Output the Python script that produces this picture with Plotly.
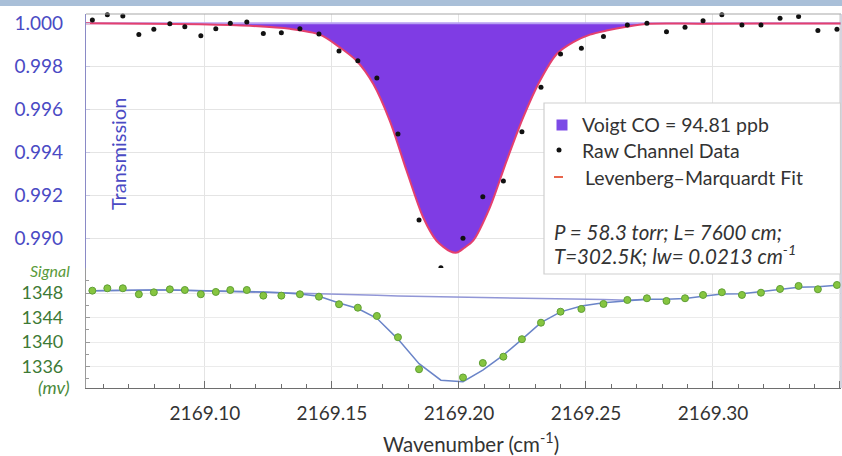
import plotly.graph_objects as go

# ---------------- data ----------------
wavenumber = [2169.0557, 2169.0616, 2169.0677, 2169.0740, 2169.0799, 2169.0862, 2169.0921,
              2169.0984, 2169.1043, 2169.1100, 2169.1165, 2169.1230, 2169.1301, 2169.1374,
              2169.1449, 2169.1528, 2169.1602, 2169.1677, 2169.1760, 2169.1843, 2169.1929,
              2169.2016, 2169.2094, 2169.2175, 2169.2248, 2169.2323, 2169.2400, 2169.2482,
              2169.2569, 2169.2663, 2169.2740, 2169.2817, 2169.2890, 2169.2961, 2169.3035,
              2169.3114, 2169.3189, 2169.3264, 2169.3337, 2169.3413, 2169.3488]

raw_transmission = [1.00015, 1.00039, 1.00034, 0.99948, 0.99972, 0.99998, 0.99984, 0.99942,
                    0.99974, 1.00000, 1.00006, 0.99952, 0.99956, 0.99974, 0.99950, 0.99871,
                    0.99826, 0.99746, 0.99486, 0.99086, 0.98864, 0.99001, 0.99194, 0.99267,
                    0.99496, 0.99703, 0.99857, 0.99884, 0.99938, 0.99992, 1.00000, 0.99960,
                    0.99981, 1.00012, 1.00039, 0.99992, 0.99992, 1.00023, 1.00031, 0.99966,
                    0.99972]

fit_wavenumber = [2169.0532, 2169.0783, 2169.0980, 2169.1177, 2169.1335, 2169.1453, 2169.1531,
                  2169.1597, 2169.1663, 2169.1728, 2169.1794, 2169.1859, 2169.1912, 2169.1965,
                  2169.1992, 2169.2020, 2169.2056, 2169.2122, 2169.2188, 2169.2253, 2169.2319,
                  2169.2385, 2169.2450, 2169.2516, 2169.2581, 2169.2660, 2169.2739, 2169.2949,
                  2169.3504]
fit_transmission = [1.00000, 0.99998, 0.99995, 0.99988, 0.99974, 0.99947, 0.99888,
                    0.99826, 0.99718, 0.99547, 0.99315, 0.99099, 0.98990, 0.98941,
                    0.98935, 0.98956, 0.98990, 0.99145, 0.99362, 0.99563, 0.99733,
                    0.99857, 0.99912, 0.99947, 0.99966, 0.99984, 0.99997, 0.99998,
                    0.99999]

baseline_wavenumber = [2169.0532, 2169.3504]
baseline_transmission = [1.0, 1.0]

signal_mv = [1348.41, 1348.80, 1348.80, 1347.82, 1348.14, 1348.63, 1348.52, 1347.82, 1348.20,
             1348.52, 1348.52, 1347.60, 1347.60, 1347.82, 1347.43, 1346.19, 1345.63, 1344.28,
             1340.80, 1335.58, 1332.40, 1334.24, 1336.60, 1337.63, 1340.49, 1343.18, 1344.98,
             1345.42, 1346.24, 1346.89, 1347.17, 1346.73, 1347.17, 1347.71, 1348.15, 1347.71,
             1348.08, 1348.69, 1349.18, 1348.64, 1349.34]

signal_fit = [1348.40, 1348.45, 1348.50, 1348.50, 1348.50, 1348.50, 1348.45, 1348.40, 1348.35,
              1348.35, 1348.30, 1348.20, 1348.05, 1347.85, 1347.50, 1346.40, 1345.50, 1343.90,
              1340.50, 1336.50, 1333.80, 1333.55, 1335.45, 1337.90, 1340.45, 1343.20, 1344.95,
              1345.90, 1346.45, 1346.80, 1347.00, 1347.00, 1347.15, 1347.50, 1347.85, 1347.90,
              1348.25, 1348.60, 1348.95, 1349.05, 1349.30]

signal_baseline = [1348.40, 1348.45, 1348.50, 1348.50, 1348.50, 1348.50, 1348.45, 1348.40,
                   1348.35, 1348.35, 1348.30, 1348.20, 1348.10, 1348.00, 1347.90, 1347.85,
                   1347.75, 1347.65, 1347.55, 1347.50, 1347.45, 1347.40, 1347.35, 1347.30,
                   1347.25, 1347.20, 1347.10, 1347.05, 1346.95, 1346.85, 1347.00]

x_range = [2169.0532, 2169.3504]
top_y_range = [0.98854, 1.00043]
bottom_y_range = [1332.52, 1352.11]
top_ticks = [0.990, 0.992, 0.994, 0.996, 0.998, 1.000]
bottom_ticks = [1336, 1340, 1344, 1348]

legend_labels = ["Voigt CO = 94.81 ppb", "Raw Channel Data", "Levenberg\u2013Marquardt Fit"]
info_lines = ["P = 58.3 torr; L= 7600 cm;", "T=302.5K; lw= 0.0213 cm<sup>-1</sup>"]

# ---------------- styling ----------------
FONT = "Lato"
W, H = 842, 456
L, R, T, B = 86, 1, 14, 68
PW, PH = W - L - R, H - T - B
BOTTOM_PX = H - B


def px_x(px):
    return (px - L) / PW


def px_y(py):
    return (BOTTOM_PX - py) / PH


PURPLE = "#7f3ce4"
RED = "#e4406e"

fig = go.Figure()

# top panel
fig.add_trace(go.Scatter(x=baseline_wavenumber, y=baseline_transmission, mode="lines",
                         line=dict(color="#b7a0f2", width=2), xaxis="x", yaxis="y",
                         hoverinfo="skip"))
fig.add_trace(go.Scatter(x=fit_wavenumber, y=fit_transmission, mode="lines",
                         line=dict(color=RED, width=2, shape="spline", smoothing=0.8),
                         fill="tonexty", fillcolor=PURPLE, xaxis="x", yaxis="y",
                         name=legend_labels[0]))
fig.add_trace(go.Scatter(x=wavenumber, y=raw_transmission, mode="markers",
                         marker=dict(color="#111111", size=5), xaxis="x", yaxis="y",
                         cliponaxis=False, name=legend_labels[1]))

# bottom panel
fig.add_trace(go.Scatter(x=wavenumber[:len(signal_baseline)], y=signal_baseline, mode="lines",
                         line=dict(color="#9196d6", width=1.5), xaxis="x2", yaxis="y2"))
fig.add_trace(go.Scatter(x=wavenumber, y=signal_fit, mode="lines",
                         line=dict(color="#6a84c8", width=1.5), xaxis="x2", yaxis="y2"))
fig.add_trace(go.Scatter(x=wavenumber, y=signal_mv, mode="markers",
                         marker=dict(color="#86c540", size=7, line=dict(color="#5f9f34", width=1)),
                         xaxis="x2", yaxis="y2", cliponaxis=False))

top_dom = [px_y(270), 1.0]
bot_dom = [0.0, px_y(268)]

fig.update_layout(
    width=W, height=H,
    margin=dict(l=L, r=R, t=T, b=B, pad=0),
    paper_bgcolor="white", plot_bgcolor="white",
    showlegend=False,
    font=dict(family=FONT, color="#333333"),
    xaxis=dict(domain=[0, 1], anchor="y", range=x_range, tick0=2169.0, dtick=0.05,
               showticklabels=False, showgrid=True, gridcolor="#e4e4e4", gridwidth=1,
               zeroline=False, showline=False, ticks=""),
    yaxis=dict(domain=top_dom, anchor="x", range=top_y_range, tickvals=top_ticks,
               tickformat=".3f", showgrid=True, gridcolor="#e4e4e4", zeroline=False,
               showline=True, linecolor="#8a8ac6", linewidth=1.2,
               ticks="inside", ticklen=4, tickcolor="#c8c8e0",
               tickfont=dict(family=FONT, size=19, color="#4a4ac4"),
               ticklabelstandoff=18),
    xaxis2=dict(domain=[0, 1], anchor="y2", range=x_range, tick0=2169.0, dtick=0.05,
                tickformat=".2f", showgrid=True, gridcolor="#e4e4e4", zeroline=False,
                showline=True, linecolor="#6e6e6e", linewidth=1.2,
                ticks="inside", ticklen=7, tickcolor="#6e6e6e",
                minor=dict(dtick=0.01, tick0=2169.0, ticks="inside", ticklen=4,
                           tickcolor="#6e6e6e", showgrid=False),
                tickfont=dict(family=FONT, size=19, color="#333333"),
                ticklabelstandoff=8),
    yaxis2=dict(domain=bot_dom, anchor="x2", range=bottom_y_range, tickvals=bottom_ticks,
                showgrid=True, gridcolor="#ebebeb", zeroline=False,
                showline=True, linecolor="#9a9a9a", linewidth=1.2,
                ticks="inside", ticklen=4, tickcolor="#9a9a9a",
                minor=dict(dtick=2, ticks="inside", ticklen=3, tickcolor="#9a9a9a", showgrid=False),
                tickfont=dict(family=FONT, size=18, color="#3d7a35"),
                ticklabelstandoff=18),
)

shapes = []
# top decorative band
shapes.append(dict(type="rect", xref="paper", yref="paper", x0=px_x(0), x1=px_x(W),
                   y0=px_y(6), y1=px_y(0), fillcolor="#a9bfd8", line=dict(width=0), layer="above"))
# top frame line and right border
shapes.append(dict(type="line", xref="paper", yref="paper", x0=0, x1=1, y0=1, y1=1,
                   line=dict(color="#a8a8a8", width=1.2)))
shapes.append(dict(type="line", xref="paper", yref="paper", x0=1, x1=1, y0=0, y1=1,
                   line=dict(color="#b8b8c8", width=1.2)))
# legend box
shapes.append(dict(type="rect", xref="paper", yref="paper", x0=px_x(544), x1=px_x(840.5),
                   y0=px_y(274), y1=px_y(103), fillcolor="white",
                   line=dict(color="#cfcfcf", width=1.2), layer="above"))
# legend symbols
shapes.append(dict(type="rect", xref="paper", yref="paper", x0=px_x(556.5), x1=px_x(567.5),
                   y0=px_y(130.5), y1=px_y(119.5), fillcolor="#7c4ae6",
                   line=dict(width=0), layer="above"))
shapes.append(dict(type="circle", xref="paper", yref="paper", x0=px_x(556.5), x1=px_x(561.5),
                   y0=px_y(152.5), y1=px_y(147.5), fillcolor="#111111",
                   line=dict(width=0), layer="above"))
shapes.append(dict(type="line", xref="paper", yref="paper", x0=px_x(554), x1=px_x(563),
                   y0=px_y(177), y1=px_y(177), line=dict(color="#e8654c", width=2),
                   layer="above"))
fig.update_layout(shapes=shapes)

ann = []
legend_y = [125, 150, 177]
legend_x = [580, 580, 583]
for txt, xx, yy in zip(legend_labels, legend_x, legend_y):
    ann.append(dict(text=txt, xref="paper", yref="paper", x=px_x(xx), y=px_y(yy),
                    xanchor="left", yanchor="middle", showarrow=False,
                    font=dict(family=FONT, size=19.5, color="#333333")))
for txt, yy in zip(info_lines, [232, 254]):
    ann.append(dict(text="<i>" + txt + "</i>", xref="paper", yref="paper", x=px_x(552), y=px_y(yy),
                    xanchor="left", yanchor="middle", showarrow=False,
                    font=dict(family=FONT, size=20.5, color="#333333")))
# Transmission label
ann.append(dict(text="Transmission", xref="paper", yref="paper", x=px_x(118), y=px_y(154),
                xanchor="center", yanchor="middle", textangle=-90, showarrow=False,
                font=dict(family=FONT, size=20, color="#4a4ac4")))
# lower axis labels
ann.append(dict(text="<i>Signal</i>", xref="paper", yref="paper", x=px_x(72), y=px_y(270),
                xanchor="right", yanchor="middle", showarrow=False,
                font=dict(family=FONT, size=16, color="#5a9a3a")))
ann.append(dict(text="<i>(mv)</i>", xref="paper", yref="paper", x=px_x(72), y=px_y(387),
                xanchor="right", yanchor="middle", showarrow=False,
                font=dict(family=FONT, size=18, color="#4a8a3a")))
# x axis title
ann.append(dict(text="Wavenumber (cm<sup>-1</sup>)", xref="paper", yref="paper",
                x=px_x(471), y=px_y(443), xanchor="center", yanchor="middle", showarrow=False,
                font=dict(family=FONT, size=20.5, color="#333333")))
fig.update_layout(annotations=ann)

fig.write_html("out.html", config={"displayModeBar": False},
               post_script="document.body.style.margin='0px';document.body.style.overflow='hidden';")
